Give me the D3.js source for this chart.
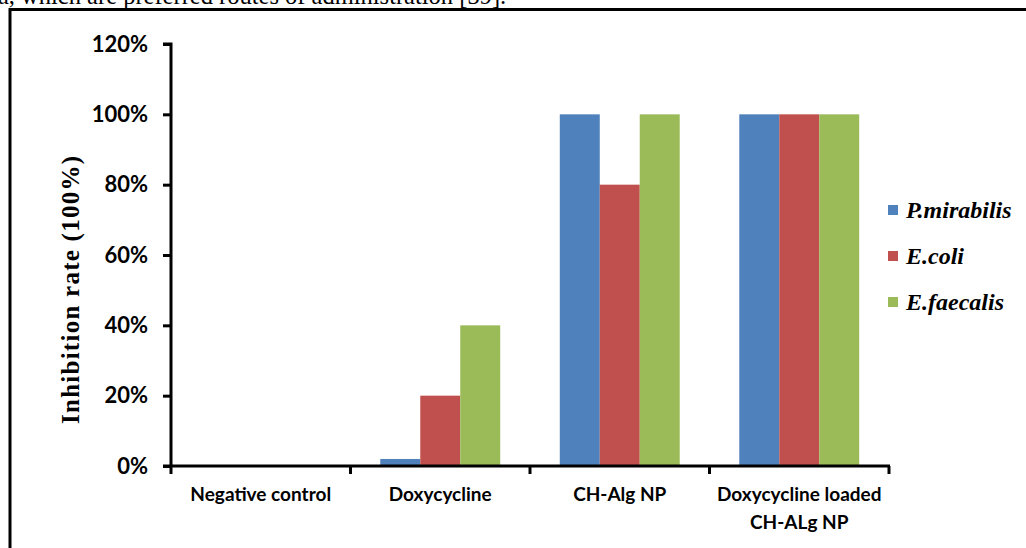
<!DOCTYPE html>
<html>
<head>
<meta charset="utf-8">
<script src="https://cdn.jsdelivr.net/npm/d3@7"></script>
<style>
  html, body { margin: 0; padding: 0; background: #fff; }
  svg { display: block; }
</style>
</head>
<body>
<svg id="chart" width="1026" height="548"></svg>
<script>
// Inhibition rate of each treatment against three bacterial strains
const categories = [["Negative control"], ["Doxycycline"], ["CH-Alg NP"], ["Doxycycline loaded", "CH-ALg NP"]];
const seriesNames = ["P.mirabilis", "E.coli", "E.faecalis"];
const pMirabilis = [0, 0.02, 1.0, 1.0];
const eColi = [0, 0.20, 0.80, 1.0];
const eFaecalis = [0, 0.40, 1.0, 1.0];
const yTicks = [0, 0.2, 0.4, 0.6, 0.8, 1.0, 1.2];
const colors = ["#4F81BD", "#C0504D", "#9BBB59"];

const seriesValues = [pMirabilis, eColi, eFaecalis];
const svg = d3.select("#chart");

// Running text line of the page, partly cut off above the figure frame
svg.append("text")
  .attr("x", -2).attr("y", 3.5)
  .attr("font-family", "Liberation Serif, Times New Roman, serif")
  .attr("font-size", 24.5)
  .attr("fill", "#000")
  .text("a, which are preferred routes of administration [39].");

// Figure frame (top and left edges)
svg.append("path")
  .attr("d", "M10,548 V9.5 H1026")
  .attr("fill", "none").attr("stroke", "#000").attr("stroke-width", 3);

const x0 = 171, x1 = 889, yTop = 44, yBottom = 466;

const x = d3.scaleBand()
  .domain(d3.range(categories.length))
  .range([x0, x1])
  .paddingInner(0).paddingOuter(0);

const xs = d3.scaleBand()
  .domain(d3.range(seriesNames.length))
  .range([0, x.bandwidth()])
  .paddingInner(0)
  .paddingOuter(0.745);

const y = d3.scaleLinear().domain([0, 1.2]).range([yBottom, yTop]);

// Bars
const groups = svg.append("g").selectAll("g")
  .data(categories)
  .join("g")
  .attr("transform", (d, i) => `translate(${x(i)},0)`);

groups.selectAll("rect")
  .data((d, i) => seriesValues.map((s, k) => ({ k, v: s[i] })))
  .join("rect")
  .attr("x", d => xs(d.k))
  .attr("width", xs.bandwidth())
  .attr("y", d => y(d.v))
  .attr("height", d => yBottom - y(d.v))
  .attr("fill", d => colors[d.k]);

// Y axis
const yAxis = d3.axisLeft(y)
  .tickValues(yTicks)
  .tickFormat(d3.format(".0%"))
  .tickSize(8)
  .tickPadding(15);

const gy = svg.append("g")
  .attr("transform", `translate(${x0},0)`)
  .call(yAxis);
gy.select(".domain").attr("stroke", "#000").attr("stroke-width", 3)
  .attr("d", `M-8,${yTop}H0V${yBottom}`);
gy.selectAll(".tick line").attr("stroke", "#000").attr("stroke-width", 3);
gy.selectAll(".tick text")
  .attr("font-family", "Lato, Calibri, sans-serif")
  .attr("font-weight", "bold")
  .attr("font-size", 22)
  .attr("fill", "#000");

// X axis with ticks at category boundaries
const gx = svg.append("g").attr("transform", `translate(0,${yBottom})`);
gx.append("line")
  .attr("x1", x0 - 8).attr("x2", x1 + 1)
  .attr("stroke", "#000").attr("stroke-width", 3);
const boundaries = d3.range(categories.length + 1).map(i => x0 + i * x.bandwidth());
gx.selectAll("line.tick")
  .data(boundaries)
  .join("line")
  .attr("class", "tick")
  .attr("x1", d => d).attr("x2", d => d)
  .attr("y1", 0).attr("y2", 8)
  .attr("stroke", "#000").attr("stroke-width", 3);

const labels = gx.selectAll("text")
  .data(categories)
  .join("text")
  .attr("x", (d, i) => x(i) + x.bandwidth() / 2)
  .attr("y", 35)
  .attr("text-anchor", "middle")
  .attr("font-family", "Lato, Calibri, sans-serif")
  .attr("font-weight", "bold")
  .attr("font-size", 19)
  .attr("fill", "#000");
labels.selectAll("tspan")
  .data(d => d)
  .join("tspan")
  .attr("x", function () { return d3.select(this.parentNode).attr("x"); })
  .attr("dy", (d, j) => j === 0 ? 0 : 28)
  .text(d => d);

// Y axis title
svg.append("text")
  .attr("transform", "translate(79,290) rotate(-90)")
  .attr("text-anchor", "middle")
  .attr("font-family", "Liberation Serif, Times New Roman, serif")
  .attr("font-weight", "bold")
  .attr("font-size", 25)
  .attr("textLength", 268)
  .attr("lengthAdjust", "spacing")
  .attr("fill", "#000")
  .text("Inhibition  rate (100%)");

// Legend
const legend = svg.append("g").selectAll("g")
  .data(seriesNames)
  .join("g")
  .attr("transform", (d, i) => `translate(888,${210 + i * 46})`);
legend.append("rect")
  .attr("x", 0).attr("y", -5)
  .attr("width", 10).attr("height", 10)
  .attr("fill", (d, i) => colors[i]);
legend.append("text")
  .attr("x", 18).attr("y", 8)
  .attr("font-family", "Liberation Serif, Times New Roman, serif")
  .attr("font-weight", "bold")
  .attr("font-style", "italic")
  .attr("font-size", 24)
  .attr("fill", "#000")
  .text(d => d);
</script>
</body>
</html>
